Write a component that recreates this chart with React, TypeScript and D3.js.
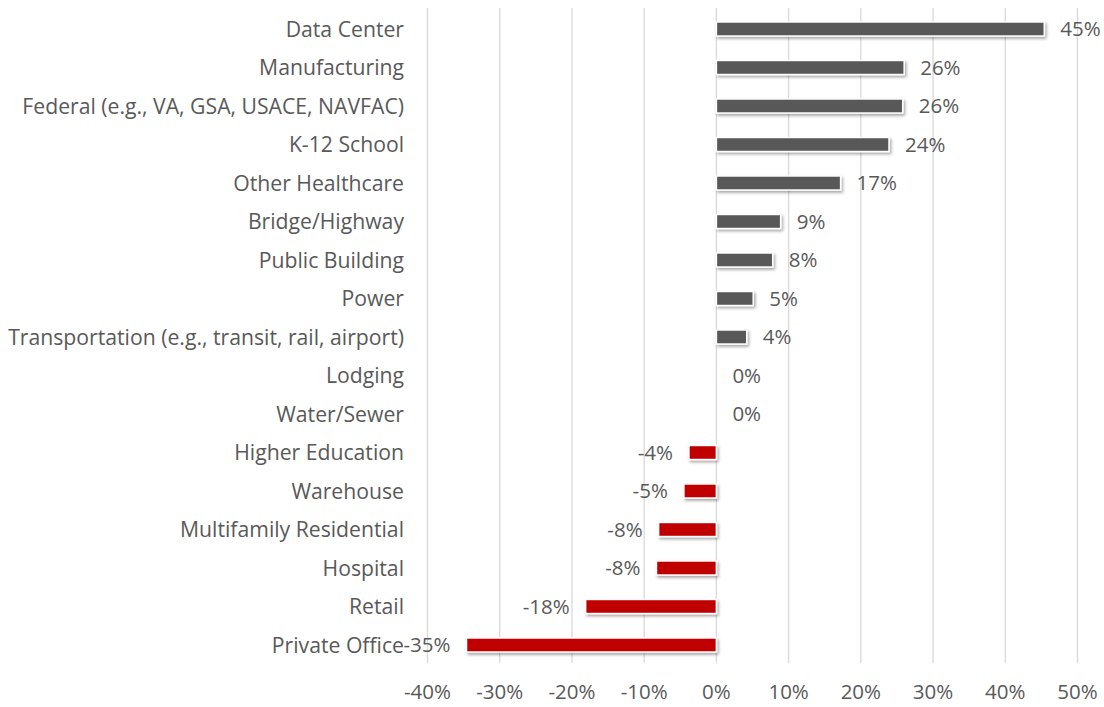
import React from "react";
import * as d3 from "d3";

const categories = [
  "Data Center",
  "Manufacturing",
  "Federal (e.g., VA, GSA, USACE, NAVFAC)",
  "K-12 School",
  "Other Healthcare",
  "Bridge/Highway",
  "Public Building",
  "Power",
  "Transportation (e.g., transit, rail, airport)",
  "Lodging",
  "Water/Sewer",
  "Higher Education",
  "Warehouse",
  "Multifamily Residential",
  "Hospital",
  "Retail",
  "Private Office",
];
const values = [45.4, 26.0, 25.8, 23.9, 17.2, 8.9, 7.8, 5.1, 4.2, 0, 0, -3.8, -4.5, -8.0, -8.3, -18.1, -34.6];
const labels = ["45%", "26%", "26%", "24%", "17%", "9%", "8%", "5%", "4%", "0%", "0%", "-4%", "-5%", "-8%", "-8%", "-18%", "-35%"];
const ticks = [-40, -30, -20, -10, 0, 10, 20, 30, 40, 50];

const W = 1104;
const H = 707;
const FONT = "'Open Sans', 'Noto Sans', sans-serif";
const TEXT = "#595959";

export default function App() {
  const x = d3.scaleLinear().domain([-40, 50]).range([427.5, 1077.5]);
  const y = d3.scaleBand<string>().domain(categories).range([9.75, 664.25]).paddingInner(0.635).paddingOuter(0.3175);
  const bw = y.bandwidth();
  const step = y.step();
  const fs = 20.5;
  const fsCat = 21.2;
  return (
    <svg width={W} height={H} style={{ position: "absolute", left: 0, top: 0, display: "block", background: "#fff" }}>
      <defs>
        <filter id="sh" x="-20%" y="-50%" width="140%" height="220%">
          <feDropShadow dx="1.5" dy="2" stdDeviation="1.5" floodColor="#000" floodOpacity="0.35" />
        </filter>
      </defs>
      {ticks.map((t) => (
        <line key={t} x1={x(t)} x2={x(t)} y1={8} y2={663} stroke="#d9d9d9" strokeWidth={1.3} />
      ))}
      {categories.map((c, i) => {
        const v = values[i];
        const y0 = y(c)!;
        const cy = y0 + bw / 2;
        const x0 = x(Math.min(0, v));
        const x1 = x(Math.max(0, v));
        return (
          <g key={c}>
            {v !== 0 && (
              <rect
                x={x0}
                y={y0}
                width={x1 - x0}
                height={bw}
                fill={v >= 0 ? "#595959" : "#C00000"}
                stroke="#fff"
                strokeWidth={1.5}
                filter="url(#sh)"
              />
            )}
            <text
              x={v >= 0 ? x1 + 16 : x0 - 16}
              y={cy}
              dy="0.36em"
              textAnchor={v >= 0 ? "start" : "end"}
              fontFamily={FONT}
              fontSize={fs}
              fill={TEXT}
            >
              {labels[i]}
            </text>
            <text x={404} y={step * i + 9.75 + step / 2} dy="0.36em" textAnchor="end" fontFamily={FONT} fontSize={fsCat} fill={TEXT}>
              {c}
            </text>
          </g>
        );
      })}
      {ticks.map((t) => (
        <text key={"l" + t} x={x(t)} y={692} dy="0.36em" textAnchor="middle" fontFamily={FONT} fontSize={fs} fill={TEXT}>
          {t + "%"}
        </text>
      ))}
    </svg>
  );
}
